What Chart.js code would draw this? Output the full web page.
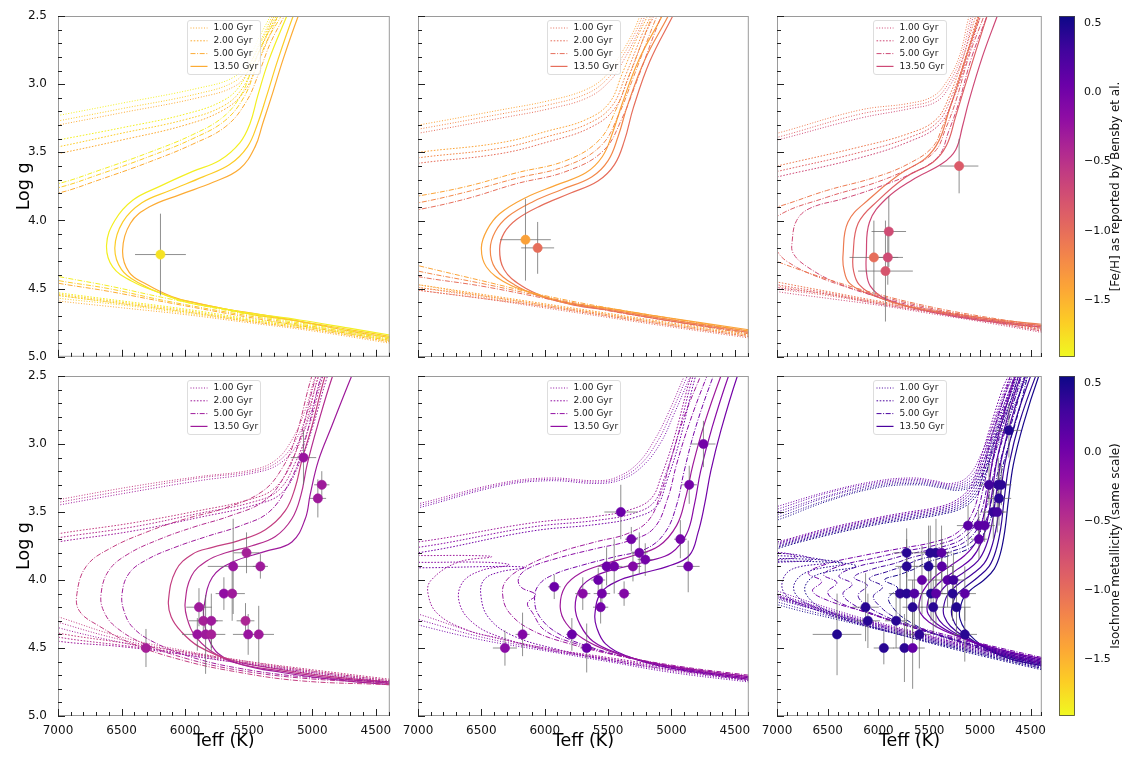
<!DOCTYPE html>
<html><head><meta charset="utf-8">
<script src="https://cdn.jsdelivr.net/npm/chart.js@4.4.1/dist/chart.umd.min.js"></script>
<style>
html,body{margin:0;padding:0;background:#fff;}
body{width:1123px;height:757px;position:relative;overflow:hidden;}
canvas{position:absolute;}
</style></head><body>
<script>
// ---------------- axes / labels ----------------
const X_TICKS = [7000,6500,6000,5500,5000,4500];
const Y_TICKS = [2.5,3.0,3.5,4.0,4.5,5.0];
const X_RANGE = [4390,7000];
const Y_RANGE = [2.5,5.0];
const CB_RANGE = [-1.91,0.55];
const CB_TICKS = [0.5,0.0,-0.5,-1.0,-1.5];
const CB_LABELS = ['[Fe/H] as reported by Bensby et al.','Isochrone metallicity (same scale)'];
const AGE_LABELS = ['1.00 Gyr','2.00 Gyr','5.00 Gyr','13.50 Gyr'];
const LEGEND_FEH = [-1.45,-1.0,-0.7,-0.3,-0.2,0.25];
const PLASMA = ['#0d0887','#41049d','#6a00a8','#8f0da4','#b12a90','#cc4778','#e16462','#f2844b','#fca636','#fcce25','#f0f921'];

// ---------------- panel 1 ----------------
const P1_FEH = [-1.85,-1.65,-1.45];
const P1_ISO_1G = [
[4390,4.88,5000,4.79,5500,4.73,6000,4.67,6500,4.61,7000,4.55,7400,4.50,null,null,7400,3.30,7000,3.23,6500,3.14,5900,3.03,5620,2.95,5510,2.83,5420,2.66,5330,2.50,5280,2.40],
[4390,4.89,5000,4.80,5500,4.74,6000,4.68,6500,4.62,7000,4.57,7400,4.52,null,null,7400,3.34,7000,3.27,6500,3.18,5900,3.07,5610,2.98,5500,2.86,5405,2.68,5315,2.50,5265,2.40],
[4390,4.90,5000,4.81,5500,4.75,6000,4.69,6500,4.64,7000,4.59,7400,4.54,null,null,7400,3.37,7000,3.30,6500,3.21,5900,3.10,5600,3.01,5490,2.88,5390,2.70,5300,2.50,5250,2.40]];
const P1_ISO_2G = [
[4390,4.87,5000,4.78,5500,4.72,6000,4.65,6500,4.59,7000,4.53,7400,4.48,null,null,7400,3.48,7000,3.41,6500,3.32,6000,3.22,5700,3.12,5560,3.00,5460,2.80,5300,2.50,5250,2.40],
[4390,4.88,5000,4.79,5500,4.73,6000,4.66,6500,4.60,7000,4.54,7400,4.49,null,null,7400,3.53,7000,3.46,6500,3.36,6000,3.26,5700,3.16,5550,3.03,5445,2.82,5285,2.50,5235,2.40],
[4390,4.89,5000,4.80,5500,4.74,6000,4.67,6500,4.61,7000,4.55,7400,4.50,null,null,7400,3.58,7000,3.51,6500,3.41,6000,3.30,5700,3.19,5540,3.06,5430,2.85,5270,2.50,5220,2.40]];
const P1_ISO_5G = [
[4390,4.86,4840,4.79,5500,4.69,6150,4.57,6600,4.48,7000,4.41,7400,4.33,null,null,7400,3.80,7000,3.73,6670,3.63,6280,3.50,5940,3.37,5700,3.24,5560,3.08,5470,2.88,5380,2.68,5270,2.50,5220,2.40],
[4390,4.87,4840,4.80,5500,4.70,6150,4.59,6600,4.50,7000,4.44,7400,4.36,null,null,7400,3.83,7000,3.76,6670,3.66,6280,3.53,5940,3.40,5690,3.27,5540,3.10,5450,2.90,5355,2.68,5245,2.50,5195,2.40],
[4390,4.88,4840,4.81,5500,4.71,6150,4.60,6600,4.52,7000,4.46,7400,4.39,null,null,7400,3.87,7000,3.80,6670,3.70,6280,3.57,5940,3.44,5680,3.31,5520,3.13,5420,2.92,5330,2.70,5220,2.50,5170,2.40]];
const P1_ISO_13G = [
[4390,4.84,4710,4.79,5100,4.73,5490,4.68,5750,4.64,5990,4.60,6200,4.53,6410,4.45,6570,4.34,6618,4.18,6553,4.00,6410,3.85,6200,3.75,5940,3.64,5730,3.56,5570,3.43,5490,3.29,5430,3.09,5340,2.82,5200,2.50,5130,2.35],
[4390,4.85,4710,4.80,5100,4.74,5470,4.69,5730,4.64,5940,4.60,6150,4.55,6360,4.46,6500,4.36,6553,4.20,6490,4.01,6340,3.87,6120,3.78,5860,3.68,5650,3.59,5510,3.46,5430,3.29,5360,3.09,5270,2.82,5150,2.50,5080,2.35],
[4390,4.86,4710,4.81,5100,4.74,5410,4.69,5680,4.65,5890,4.61,6100,4.56,6300,4.47,6440,4.38,6492,4.22,6430,4.02,6280,3.90,6040,3.81,5780,3.72,5570,3.62,5450,3.46,5390,3.29,5320,3.09,5230,2.82,5110,2.50,5040,2.35]];
const P1_TEFF = [6194];
const P1_LOGG = [4.25];
const P1_ETEFF = [200];
const P1_ELOGG = [0.30];
const P1_SFEH = [-1.78];

// ---------------- panel 2 ----------------
const P2_FEH = [-1.4,-1.2,-1.0];
const P2_ISO_1G = [
[4390,4.84,5000,4.76,5500,4.69,6000,4.62,6500,4.55,7000,4.47,7400,4.42,null,null,7400,3.36,7000,3.30,6356,3.19,5964,3.12,5676,3.04,5519,2.94,5414,2.80,5309,2.63,5250,2.50,5210,2.40],
[4390,4.85,5000,4.77,5500,4.70,6000,4.63,6500,4.56,7000,4.49,7400,4.44,null,null,7400,3.39,7000,3.33,6356,3.22,5964,3.15,5670,3.07,5505,2.96,5395,2.81,5290,2.63,5230,2.50,5190,2.40],
[4390,4.86,5000,4.78,5500,4.71,6000,4.64,6500,4.57,7000,4.51,7400,4.46,null,null,7400,3.42,7000,3.36,6356,3.25,5964,3.18,5665,3.10,5490,2.98,5375,2.82,5270,2.63,5210,2.50,5170,2.40]];
const P2_ISO_2G = [
[4390,4.83,5000,4.75,5500,4.68,6000,4.61,6500,4.54,7000,4.47,7400,4.42,null,null,7400,3.56,7000,3.50,6356,3.43,5964,3.34,5676,3.26,5493,3.14,5388,2.92,5257,2.63,5190,2.50,5150,2.40],
[4390,4.84,5000,4.76,5500,4.69,6000,4.62,6500,4.55,7000,4.49,7400,4.44,null,null,7400,3.60,7000,3.54,6356,3.47,5964,3.38,5660,3.29,5470,3.16,5360,2.93,5230,2.63,5165,2.50,5125,2.40],
[4390,4.85,5000,4.77,5500,4.70,6000,4.63,6500,4.57,7000,4.51,7400,4.46,null,null,7400,3.64,7000,3.58,6356,3.51,5964,3.42,5645,3.32,5450,3.18,5335,2.94,5205,2.63,5140,2.50,5100,2.40]];
const P2_ISO_5G = [
[4390,4.81,5050,4.71,5500,4.64,6000,4.55,6500,4.44,7000,4.33,7400,4.24,null,null,7400,3.88,7000,3.82,6618,3.75,6225,3.65,5833,3.56,5571,3.41,5440,3.19,5336,2.94,5152,2.50,5080,2.35],
[4390,4.82,5050,4.72,5500,4.65,6000,4.56,6500,4.46,7000,4.37,7400,4.28,null,null,7400,3.93,7000,3.87,6618,3.79,6225,3.69,5833,3.60,5555,3.45,5415,3.22,5305,2.96,5115,2.50,5040,2.35],
[4390,4.83,5050,4.73,5500,4.66,6000,4.57,6500,4.48,7000,4.41,7400,4.33,null,null,7400,3.98,7000,3.92,6618,3.84,6225,3.73,5833,3.64,5540,3.49,5390,3.25,5275,2.98,5080,2.50,5000,2.35]];
const P2_ISO_13G = [
[4390,4.80,5050,4.71,5520,4.64,5830,4.60,6100,4.53,6300,4.46,6460,4.34,6500,4.20,6456,4.07,6356,3.95,6147,3.83,5911,3.74,5676,3.65,5545,3.53,5466,3.36,5388,3.14,5257,2.82,5074,2.50,5000,2.35],
[4390,4.81,5050,4.72,5500,4.65,5800,4.61,6050,4.55,6240,4.47,6390,4.35,6430,4.21,6390,4.08,6290,3.97,6090,3.86,5860,3.77,5630,3.68,5500,3.56,5420,3.38,5345,3.15,5210,2.82,5026,2.50,4950,2.35],
[4390,4.82,5050,4.73,5480,4.66,5770,4.62,6000,4.56,6180,4.48,6320,4.36,6356,4.21,6320,4.09,6220,3.99,6030,3.89,5800,3.80,5580,3.71,5450,3.59,5370,3.41,5300,3.17,5170,2.83,4990,2.50,4910,2.35]];
const P2_TEFF = [6152,6056];
const P2_LOGG = [4.14,4.20];
const P2_ETEFF = [200,130];
const P2_ELOGG = [0.30,0.19];
const P2_SFEH = [-1.38,-1.0];

// ---------------- panel 3 ----------------
const P3_FEH = [-1.1,-0.9,-0.7];
const P3_ISO_1G = [
[4390,4.80,5000,4.72,5500,4.66,6000,4.60,6500,4.54,7000,4.48,7400,4.42,null,null,7400,3.43,7000,3.36,6186,3.19,5695,3.14,5466,3.09,5336,2.99,5205,2.80,5107,2.50,5060,2.40],
[4390,4.81,5000,4.73,5500,4.67,6000,4.61,6500,4.55,7000,4.50,7400,4.44,null,null,7400,3.46,7000,3.39,6186,3.22,5695,3.16,5450,3.11,5315,3.00,5185,2.80,5085,2.50,5040,2.40],
[4390,4.82,5000,4.74,5500,4.68,6000,4.62,6500,4.57,7000,4.52,7400,4.46,null,null,7400,3.48,7000,3.41,6186,3.25,5695,3.18,5435,3.13,5295,3.01,5165,2.80,5065,2.50,5020,2.40]];
const P3_ISO_2G = [
[4390,4.79,5000,4.71,5500,4.65,6000,4.59,6500,4.52,7000,4.45,7400,4.39,null,null,7400,3.67,7000,3.60,6186,3.46,5695,3.36,5434,3.26,5303,3.09,5172,2.82,5041,2.50,4990,2.40],
[4390,4.80,5000,4.72,5500,4.66,6000,4.60,6500,4.53,7000,4.47,7400,4.41,null,null,7400,3.71,7000,3.64,6186,3.50,5695,3.39,5420,3.28,5285,3.10,5150,2.82,5020,2.50,4970,2.40],
[4390,4.81,5000,4.73,5500,4.67,6000,4.61,6500,4.54,7000,4.49,7400,4.43,null,null,7400,3.75,7000,3.68,6186,3.54,5695,3.42,5405,3.30,5265,3.11,5130,2.82,4995,2.50,4945,2.40]];
const P3_ISO_5G = [
[4390,4.77,5000,4.70,5500,4.63,6000,4.54,6500,4.43,7000,4.30,7400,4.18,null,null,7400,3.97,7000,3.90,6513,3.78,6022,3.68,5695,3.58,5466,3.46,5368,3.31,5270,3.12,5139,2.80,4992,2.50,4940,2.40],
[4390,4.78,5000,4.71,5500,4.64,6000,4.55,6500,4.44,6900,4.30,7030,4.18,7050,4.08,7000,3.97,6513,3.83,6022,3.72,5680,3.61,5440,3.49,5340,3.33,5240,3.13,5110,2.80,4960,2.50,4910,2.40],
[4390,4.79,5000,4.72,5500,4.65,6000,4.56,6400,4.46,6700,4.34,6840,4.24,6850,4.15,6807,4.00,6676,3.91,6349,3.84,6022,3.76,5660,3.65,5410,3.53,5310,3.35,5210,3.14,5080,2.80,4930,2.50,4880,2.40]];
const P3_ISO_13G = [
[4390,4.76,4800,4.73,5205,4.69,5695,4.63,6088,4.54,6284,4.46,6340,4.36,6349,4.25,6300,4.01,6088,3.84,5793,3.66,5532,3.54,5401,3.41,5303,3.19,5205,2.97,5009,2.50,4940,2.35],
[4390,4.77,4800,4.74,5200,4.70,5650,4.64,6010,4.56,6190,4.47,6245,4.37,6251,4.26,6200,4.02,6000,3.85,5730,3.68,5460,3.57,5330,3.45,5240,3.24,5150,3.02,4930,2.50,4860,2.35],
[4390,4.78,4800,4.75,5190,4.71,5600,4.65,5940,4.57,6080,4.48,6118,4.38,6120,4.26,6088,4.01,5924,3.84,5663,3.70,5368,3.58,5238,3.48,5172,3.31,5107,3.12,4976,2.80,4829,2.50,4770,2.38]];
const P3_TEFF = [5205,5898,6045,5908,5931];
const P3_LOGG = [3.60,4.08,4.27,4.27,4.37];
const P3_ETEFF = [190,170,240,150,270];
const P3_ELOGG = [0.20,0.26,0.27,0.20,0.37];
const P3_SFEH = [-0.85,-0.72,-1.0,-0.72,-0.8];

// ---------------- panel 4 ----------------
const P4_FEH = [-0.6,-0.45,-0.3];
const P4_ISO_1G = [
[4390,4.74,5000,4.67,5500,4.60,6000,4.52,6500,4.42,7000,4.27,7400,4.15,null,null,7400,3.48,7000,3.41,6400,3.31,5891,3.24,5473,3.19,5290,3.12,5160,2.97,5055,2.75,4977,2.50,4930,2.40],
[4390,4.75,5000,4.68,5500,4.61,6000,4.53,6500,4.44,7000,4.31,7400,4.19,null,null,7400,3.50,7000,3.43,6400,3.33,5891,3.25,5460,3.20,5270,3.13,5135,2.98,5030,2.75,4950,2.50,4900,2.40],
[4390,4.76,5000,4.69,5500,4.62,6000,4.55,6500,4.46,7000,4.35,7400,4.23,null,null,7400,3.52,7000,3.45,6400,3.35,5891,3.27,5445,3.21,5250,3.14,5110,2.99,5005,2.75,4925,2.50,4875,2.40]];
const P4_ISO_2G = [
[4390,4.73,5000,4.66,5500,4.60,6000,4.53,6500,4.46,7000,4.39,7400,4.30,null,null,7400,3.73,7000,3.66,6413,3.58,5891,3.49,5500,3.41,5290,3.32,5160,3.12,5055,2.87,4951,2.50,4900,2.40],
[4390,4.74,5000,4.67,5500,4.61,6000,4.54,6500,4.48,7000,4.42,7400,4.34,null,null,7400,3.76,7000,3.69,6413,3.61,5891,3.51,5480,3.43,5265,3.34,5130,3.13,5025,2.87,4915,2.50,4865,2.40],
[4390,4.75,5000,4.68,5500,4.62,6000,4.55,6500,4.49,7000,4.45,7400,4.38,null,null,7400,3.79,7000,3.72,6413,3.64,5891,3.54,5460,3.45,5240,3.36,5100,3.14,4995,2.87,4880,2.50,4830,2.40]];
const P4_ISO_5G = [
[4390,4.77,5108,4.74,5630,4.67,6021,4.59,6413,4.47,6674,4.34,6830,4.23,6851,4.10,6778,3.90,6595,3.77,6282,3.64,5995,3.55,5682,3.47,5395,3.35,5238,3.18,5134,2.96,5003,2.50,4950,2.40],
[4390,4.76,5100,4.72,5600,4.66,5980,4.58,6320,4.47,6540,4.35,6640,4.23,6661,4.10,6600,3.93,6450,3.81,6200,3.70,5930,3.61,5650,3.53,5380,3.42,5220,3.24,5110,3.00,4970,2.50,4920,2.40],
[4390,4.75,5090,4.71,5570,4.65,5940,4.57,6240,4.46,6410,4.35,6480,4.23,6496,4.10,6440,3.95,6300,3.85,6080,3.76,5830,3.68,5560,3.60,5340,3.50,5190,3.30,5080,3.05,4930,2.50,4880,2.40]];
const P4_ISO_13G = [
[4390,4.75,4847,4.71,5238,4.66,5630,4.59,5891,4.49,6030,4.38,6110,4.27,6131,4.15,6073,3.93,5943,3.81,5786,3.76,5578,3.71,5369,3.63,5212,3.49,5134,3.32,5082,3.12,5003,2.87,4899,2.50,4850,2.40],
[4390,4.76,4847,4.72,5238,4.67,5600,4.61,5800,4.52,5930,4.40,5985,4.28,6000,4.17,5950,3.97,5830,3.86,5680,3.80,5480,3.75,5290,3.68,5160,3.55,5090,3.38,5040,3.15,4960,2.87,4840,2.50,4790,2.40],
[4390,4.77,4847,4.73,5238,4.68,5560,4.62,5740,4.54,5820,4.42,5850,4.30,5852,4.20,5786,3.98,5630,3.87,5369,3.79,5160,3.72,5055,3.55,5016,3.37,4951,3.12,4847,2.87,4690,2.50,4640,2.40]];
const P4_TEFF = [5069,4925,4956,5517,5622,5408,5695,5630,5891,5857,5794,5904,5839,5794,5525,5504,5421,6308];
const P4_LOGG = [3.10,3.30,3.40,3.80,3.90,3.90,4.10,4.10,4.20,4.30,4.30,4.40,4.40,4.40,4.30,4.40,4.40,4.50];
const P4_ETEFF = [100,60,65,100,200,60,65,100,100,115,90,120,60,110,70,120,120,40];
const P4_ELOGG = [0.20,0.10,0.14,0.15,0.35,0.09,0.12,0.20,0.14,0.12,0.20,0.12,0.29,0.12,0.13,0.15,0.21,0.14];
const P4_SFEH = [-0.25,-0.3,-0.3,-0.35,-0.25,-0.3,-0.2,-0.3,-0.3,-0.35,-0.3,-0.25,-0.3,-0.35,-0.4,-0.25,-0.3,-0.35];

// ---------------- panel 5 ----------------
const P5_FEH = [-0.3,-0.15,0.0];
const P5_ISO_1G = [
[4390,4.73,5000,4.66,5500,4.58,6000,4.50,6500,4.40,7000,4.25,7400,4.15,null,null,7400,3.52,7000,3.44,6361,3.29,5969,3.25,5577,3.27,5421,3.24,5264,3.14,5134,2.97,5029,2.78,4899,2.50,4850,2.40],
[4390,4.74,5000,4.67,5500,4.59,6000,4.51,6500,4.42,7000,4.29,7400,4.19,null,null,7400,3.53,7000,3.455,6361,3.30,5969,3.26,5577,3.28,5405,3.25,5245,3.15,5110,2.98,5005,2.78,4875,2.50,4825,2.40],
[4390,4.75,5000,4.68,5500,4.60,6000,4.52,6500,4.44,7000,4.33,7400,4.23,null,null,7400,3.55,7000,3.47,6361,3.31,5969,3.27,5577,3.29,5390,3.26,5225,3.16,5085,2.99,4980,2.78,4850,2.50,4800,2.40]];
const P5_ISO_2G = [
[4390,4.72,5000,4.64,5500,4.57,6000,4.50,6400,4.42,6607,4.37,6843,4.25,6921,4.10,6895,4.00,6686,3.87,6420,3.83,6600,3.82,7000,3.82,7400,3.81,null,null,7400,3.74,7000,3.72,6100,3.58,5577,3.53,5316,3.48,5160,3.40,5082,3.24,4977,2.95,4847,2.50,4800,2.40],
[4390,4.73,5000,4.65,5500,4.58,6000,4.51,6350,4.42,6560,4.32,6673,4.17,6650,4.02,6500,3.93,6280,3.89,6450,3.87,7000,3.87,7400,3.86,null,null,7400,3.78,7000,3.76,6100,3.61,5577,3.56,5300,3.51,5140,3.43,5060,3.26,4960,2.97,4830,2.50,4785,2.40],
[4390,4.74,5000,4.66,5500,4.59,5900,4.51,6250,4.41,6440,4.28,6503,4.12,6480,4.00,6350,3.94,6150,3.91,6300,3.90,7000,3.91,7400,3.90,null,null,7400,3.82,7000,3.80,6100,3.64,5577,3.59,5290,3.54,5120,3.46,5040,3.28,4940,2.99,4810,2.50,4765,2.40]];
const P5_ISO_5G = [
[4390,4.70,4900,4.64,5400,4.56,5800,4.47,6100,4.37,6280,4.24,6333,4.10,6300,4.00,6150,3.90,5900,3.80,5600,3.72,5350,3.66,5180,3.56,5080,3.35,5000,3.10,4900,2.80,4770,2.50,4720,2.40],
[4390,4.71,4900,4.65,5350,4.57,5750,4.47,6000,4.37,6097,4.24,6136,4.17,6071,4.11,6190,4.05,6204,3.98,6120,3.91,5900,3.84,5600,3.77,5330,3.71,5140,3.62,5030,3.40,4960,3.15,4860,2.85,4720,2.50,4670,2.40],
[4390,4.72,4900,4.66,5300,4.58,5650,4.49,5900,4.39,6040,4.27,6080,4.15,6050,4.04,5930,3.96,5700,3.89,5450,3.83,5200,3.77,5050,3.65,4960,3.45,4900,3.20,4810,2.88,4670,2.50,4620,2.40]];
const P5_ISO_13G = [
[4390,4.71,4800,4.66,5200,4.60,5500,4.52,5700,4.43,5830,4.32,5878,4.20,5840,4.05,5720,3.95,5520,3.88,5300,3.82,5100,3.75,4960,3.60,4890,3.40,4830,3.15,4740,2.85,4610,2.50,4560,2.40],
[4390,4.72,4800,4.67,5150,4.61,5420,4.54,5620,4.45,5720,4.33,5760,4.20,5720,4.06,5600,3.97,5400,3.91,5180,3.86,5000,3.80,4880,3.66,4820,3.45,4770,3.20,4680,2.88,4550,2.50,4500,2.40],
[4390,4.73,4800,4.68,5100,4.63,5350,4.56,5520,4.47,5590,4.35,5604,4.25,5560,4.10,5430,4.01,5230,3.95,5030,3.90,4860,3.82,4790,3.65,4740,3.45,4690,3.20,4610,2.90,4480,2.50,4430,2.40]];
const P5_TEFF = [4748,4860,5400,5317,4930,5254,5207,5512,5452,5304,4868,5578,5925,5700,5549,5374,5559,5786,6175,5669,6314];
const P5_LOGG = [3.00,3.30,3.50,3.70,3.70,3.80,3.85,3.90,3.90,3.90,3.90,4.00,4.05,4.10,4.10,4.10,4.20,4.40,4.40,4.50,4.50];
const P5_ETEFF = [95,60,130,50,50,65,60,70,65,65,90,55,50,60,65,50,60,45,55,50,95];
const P5_ELOGG = [0.17,0.14,0.20,0.09,0.14,0.15,0.12,0.14,0.20,0.11,0.19,0.09,0.09,0.12,0.09,0.09,0.12,0.12,0.16,0.18,0.13];
const P5_SFEH = [0.0,0.0,0.05,0.0,0.0,0.0,0.0,0.05,0.0,-0.1,0.0,0.05,0.05,-0.15,0.0,-0.1,0.0,0.05,-0.1,0.05,-0.15];

// ---------------- panel 6 ----------------
const P6_FEH = [0.0,0.1,0.2,0.3,0.4,0.5];
const P6_ISO_1G = [
[4390,4.60,4800,4.53,5300,4.44,5800,4.35,6300,4.25,7000,4.08,7400,3.97,null,null,7400,3.55,7000,3.46,6500,3.35,6000,3.27,5650,3.25,5450,3.27,5280,3.29,5120,3.24,4990,3.08,4850,2.82,4680,2.50,4620,2.40],
[4390,4.61,4800,4.54,5300,4.45,5800,4.36,6300,4.26,7000,4.10,7400,3.99,null,null,7400,3.57,7000,3.48,6500,3.36,6000,3.28,5640,3.26,5440,3.28,5265,3.30,5100,3.25,4970,3.09,4830,2.83,4650,2.50,4590,2.40],
[4390,4.62,4800,4.55,5300,4.46,5800,4.37,6300,4.27,7000,4.12,7400,4.01,null,null,7400,3.59,7000,3.50,6500,3.38,6000,3.29,5630,3.27,5430,3.29,5250,3.31,5080,3.26,4950,3.10,4810,2.84,4620,2.50,4560,2.40],
[4390,4.63,4800,4.56,5300,4.47,5800,4.38,6300,4.28,7000,4.14,7400,4.03,null,null,7400,3.61,7000,3.52,6500,3.39,6000,3.30,5620,3.28,5420,3.30,5235,3.32,5060,3.27,4930,3.11,4790,2.85,4590,2.50,4530,2.40],
[4390,4.64,4800,4.57,5300,4.48,5800,4.39,6300,4.30,7000,4.16,7400,4.05,null,null,7400,3.63,7000,3.54,6500,3.41,6000,3.31,5610,3.29,5410,3.31,5220,3.33,5040,3.28,4910,3.12,4770,2.86,4560,2.50,4500,2.40],
[4390,4.65,4800,4.58,5300,4.49,5800,4.40,6300,4.31,7000,4.18,7400,4.07,null,null,7400,3.65,7000,3.56,6500,3.42,6000,3.32,5600,3.30,5400,3.32,5205,3.34,5020,3.29,4890,3.13,4750,2.87,4530,2.50,4470,2.40]];
const P6_ISO_2G = [
[4390,4.61,4800,4.54,5300,4.45,5800,4.36,6300,4.27,6700,4.18,7000,4.11,7400,3.99,null,null,7400,3.78,7000,3.72,6500,3.62,6000,3.54,5700,3.50,5450,3.47,5250,3.42,5100,3.32,5000,3.12,4900,2.88,4780,2.60,4720,2.50],
[4390,4.62,4800,4.55,5300,4.46,5800,4.37,6300,4.28,6700,4.19,7000,4.12,7400,4.01,null,null,7400,3.86,7000,3.85,6800,3.83,6950,3.80,7400,3.79,null,null,7400,3.80,7000,3.73,6500,3.63,6000,3.55,5690,3.51,5440,3.48,5235,3.43,5085,3.33,4985,3.13,4885,2.89,4760,2.61,4700,2.50],
[4390,4.63,4800,4.56,5300,4.47,5800,4.38,6300,4.29,6700,4.20,7000,4.13,7400,4.03,null,null,7400,3.88,7000,3.87,6650,3.85,6850,3.81,7400,3.80,null,null,7400,3.82,7000,3.74,6500,3.64,6000,3.56,5680,3.52,5430,3.49,5220,3.44,5070,3.34,4970,3.14,4870,2.90,4740,2.62,4680,2.50],
[4390,4.64,4800,4.57,5300,4.48,5800,4.39,6300,4.30,6650,4.21,6900,4.12,6950,4.02,6850,3.92,6500,3.87,6750,3.83,7400,3.82,null,null,7400,3.84,7000,3.75,6500,3.65,6000,3.57,5670,3.53,5420,3.50,5205,3.45,5055,3.35,4955,3.15,4855,2.91,4720,2.63,4660,2.50],
[4390,4.65,4800,4.58,5300,4.49,5800,4.40,6250,4.31,6600,4.21,6800,4.12,6830,4.03,6700,3.94,6350,3.88,6600,3.85,7400,3.84,null,null,7400,3.86,7000,3.76,6500,3.66,6000,3.58,5660,3.54,5410,3.51,5190,3.46,5040,3.36,4940,3.16,4840,2.92,4700,2.64,4640,2.50],
[4390,4.66,4800,4.59,5300,4.50,5750,4.41,6200,4.31,6550,4.21,6700,4.12,6720,4.04,6600,3.96,6220,3.90,6450,3.87,7400,3.86,null,null,7400,3.88,7000,3.77,6500,3.67,6000,3.59,5650,3.55,5400,3.52,5175,3.47,5025,3.37,4925,3.17,4825,2.93,4680,2.65,4620,2.50]];
const P6_ISO_5G = [
[4390,4.57,4800,4.50,5300,4.41,5800,4.31,6200,4.22,6500,4.15,6650,4.08,6560,4.01,6690,3.95,6500,3.88,6150,3.82,5800,3.77,5450,3.72,5220,3.65,5070,3.50,4990,3.28,4910,3.02,4790,2.72,4700,2.50],
[4390,4.58,4800,4.51,5300,4.42,5750,4.33,6150,4.23,6400,4.16,6500,4.09,6410,4.02,6540,3.96,6350,3.89,6050,3.84,5750,3.79,5420,3.74,5190,3.67,5040,3.52,4960,3.30,4880,3.04,4760,2.74,4660,2.50],
[4390,4.59,4800,4.52,5250,4.44,5700,4.34,6050,4.25,6270,4.17,6350,4.10,6260,4.03,6390,3.97,6200,3.90,5950,3.86,5700,3.81,5390,3.76,5160,3.69,5010,3.54,4930,3.32,4850,3.06,4730,2.76,4620,2.50],
[4390,4.60,4800,4.53,5200,4.45,5650,4.35,5950,4.26,6130,4.18,6200,4.11,6110,4.04,6240,3.98,6060,3.92,5850,3.88,5650,3.83,5360,3.78,5130,3.71,4980,3.56,4900,3.34,4820,3.08,4700,2.78,4590,2.50],
[4390,4.61,4800,4.54,5150,4.46,5580,4.36,5850,4.27,5990,4.19,6050,4.12,5960,4.05,6090,3.99,5920,3.94,5760,3.90,5600,3.85,5330,3.80,5100,3.73,4950,3.58,4870,3.36,4790,3.10,4670,2.80,4560,2.50],
[4390,4.62,4800,4.55,5100,4.48,5500,4.38,5750,4.28,5860,4.20,5900,4.13,5810,4.06,5940,4.00,5790,3.96,5650,3.92,5520,3.87,5300,3.82,5070,3.75,4920,3.60,4840,3.38,4760,3.12,4640,2.82,4530,2.50]];
const P6_ISO_13G = [
[4390,4.58,4700,4.53,5000,4.47,5300,4.39,5500,4.31,5590,4.24,5600,4.18,5560,4.08,5450,3.98,5300,3.90,5150,3.82,5040,3.72,4970,3.55,4920,3.35,4870,3.10,4770,2.80,4650,2.50,4600,2.40],
[4390,4.59,4700,4.54,4980,4.48,5250,4.40,5430,4.32,5510,4.25,5520,4.19,5480,4.09,5370,4.00,5220,3.92,5080,3.84,4990,3.73,4925,3.56,4880,3.36,4830,3.11,4730,2.81,4600,2.50,4550,2.40],
[4390,4.60,4700,4.55,4960,4.49,5200,4.41,5360,4.33,5430,4.26,5440,4.20,5400,4.10,5290,4.01,5150,3.94,5020,3.86,4940,3.75,4880,3.58,4840,3.37,4790,3.12,4690,2.82,4550,2.50,4500,2.42],
[4390,4.61,4700,4.56,4940,4.50,5150,4.42,5290,4.34,5350,4.27,5360,4.21,5320,4.11,5210,4.03,5080,3.96,4960,3.88,4890,3.77,4835,3.60,4800,3.39,4750,3.13,4650,2.83,4500,2.50,4450,2.42],
[4390,4.62,4700,4.57,4920,4.51,5100,4.43,5220,4.35,5270,4.28,5280,4.22,5240,4.12,5140,4.05,5020,3.98,4910,3.90,4845,3.79,4795,3.62,4760,3.40,4710,3.14,4610,2.84,4450,2.50,4400,2.43],
[4390,4.63,4700,4.58,4900,4.52,5050,4.44,5150,4.36,5195,4.29,5200,4.23,5160,4.13,5070,4.06,4960,4.00,4860,3.92,4800,3.81,4755,3.64,4720,3.42,4670,3.15,4570,2.85,4420,2.50,4380,2.45]];
const P6_TEFF = [4714,4910,4819,4789,4812,4868,4829,5117,5015,4953,5009,5722,5489,5433,5378,5722,5506,5375,5571,5319,5261,5787,5722,5646,5482,5433,5270,5149,6127,5663,5460,5231,6104,5826,6408,5597,5149,5947,5744,5663];
const P6_LOGG = [2.90,3.30,3.30,3.30,3.40,3.50,3.50,3.60,3.60,3.60,3.70,3.80,3.80,3.80,3.80,3.90,3.90,3.90,4.00,4.00,4.00,4.10,4.10,4.10,4.10,4.10,4.10,4.10,4.20,4.20,4.20,4.20,4.30,4.30,4.40,4.40,4.40,4.50,4.50,4.50];
const P6_ETEFF = [120,100,110,100,120,110,100,110,90,100,80,130,100,120,100,110,130,110,140,120,110,110,130,100,140,110,120,110,130,100,120,140,120,110,240,110,120,100,110,120];
const P6_ELOGG = [0.20,0.15,0.20,0.15,0.20,0.20,0.15,0.15,0.12,0.12,0.15,0.18,0.20,0.25,0.20,0.20,0.30,0.20,0.25,0.20,0.20,0.20,0.30,0.25,0.20,0.25,0.20,0.20,0.25,0.20,0.20,0.20,0.20,0.20,0.30,0.25,0.20,0.12,0.25,0.30];
const P6_SFEH = [0.45,0.3,0.4,0.4,0.42,0.35,0.3,0.15,0.15,0.15,0.15,0.42,0.42,0.42,0.15,0.42,0.45,0.15,0.1,0.15,0.3,0.4,0.42,0.2,0.45,0.15,0.42,0.15,0.42,0.42,0.42,0.45,0.42,0.42,0.45,0.4,0.42,0.42,0.4,0.1];

// ---------------- styling helpers ----------------
const FONT = "'DejaVu Sans', 'Liberation Sans', sans-serif";
const AGE_DASH = [[1,1.7],[1.6,1.6],[5,1.6,1,1.6],[]];
const AGE_WIDTH = [1,1,1,1.2];
function hex2rgb(h){return [parseInt(h.slice(1,3),16),parseInt(h.slice(3,5),16),parseInt(h.slice(5,7),16)];}
const PL = PLASMA.map(hex2rgb);
function plasma(t){
  t = Math.max(0, Math.min(1, t));
  const s = t*(PL.length-1); const i = Math.min(PL.length-2, Math.floor(s)); const f = s-i;
  const c = PL[i].map((v,k)=>Math.round(v+(PL[i+1][k]-v)*f));
  return 'rgb('+c[0]+','+c[1]+','+c[2]+')';
}
function fehColor(v){ return plasma(1-(v-CB_RANGE[0])/(CB_RANGE[1]-CB_RANGE[0])); }
function curveData(flat){
  const out=[];
  for(let i=0;i<flat.length;i+=2){
    if(flat[i]===null) out.push({x:null,y:null}); else out.push({x:flat[i],y:flat[i+1]});
  }
  return out;
}
function fmtMinus(v){ return (v<0?'\u2212':'')+Math.abs(v).toFixed(1); }

const PANELS = [
  {col:0,row:0,feh:P1_FEH,iso:[P1_ISO_1G,P1_ISO_2G,P1_ISO_5G,P1_ISO_13G],st:[P1_TEFF,P1_LOGG,P1_ETEFF,P1_ELOGG,P1_SFEH],leg:LEGEND_FEH[0]},
  {col:1,row:0,feh:P2_FEH,iso:[P2_ISO_1G,P2_ISO_2G,P2_ISO_5G,P2_ISO_13G],st:[P2_TEFF,P2_LOGG,P2_ETEFF,P2_ELOGG,P2_SFEH],leg:LEGEND_FEH[1]},
  {col:2,row:0,feh:P3_FEH,iso:[P3_ISO_1G,P3_ISO_2G,P3_ISO_5G,P3_ISO_13G],st:[P3_TEFF,P3_LOGG,P3_ETEFF,P3_ELOGG,P3_SFEH],leg:LEGEND_FEH[2]},
  {col:0,row:1,feh:P4_FEH,iso:[P4_ISO_1G,P4_ISO_2G,P4_ISO_5G,P4_ISO_13G],st:[P4_TEFF,P4_LOGG,P4_ETEFF,P4_ELOGG,P4_SFEH],leg:LEGEND_FEH[3]},
  {col:1,row:1,feh:P5_FEH,iso:[P5_ISO_1G,P5_ISO_2G,P5_ISO_5G,P5_ISO_13G],st:[P5_TEFF,P5_LOGG,P5_ETEFF,P5_ELOGG,P5_SFEH],leg:LEGEND_FEH[4]},
  {col:2,row:1,feh:P6_FEH,iso:[P6_ISO_1G,P6_ISO_2G,P6_ISO_5G,P6_ISO_13G],st:[P6_TEFF,P6_LOGG,P6_ETEFF,P6_ELOGG,P6_SFEH],leg:LEGEND_FEH[5]}
];
const COLS = [[58,391],[418,750],[777,1043]];
const ROWS = [[16,357],[376,716]];

function makeCanvas(left, top, w, h){
  const c = document.createElement('canvas');
  c.width = w; c.height = h;
  c.style.left = left+'px'; c.style.top = top+'px';
  c.style.width = w+'px'; c.style.height = h+'px';
  document.body.appendChild(c);
  return c;
}

const framePlugin = {
  id:'frameTicks',
  afterDraw(chart){
    const {ctx, chartArea:a, scales:{x,y}} = chart;
    ctx.save();
    ctx.strokeStyle = '#9a9a9a'; ctx.lineWidth = 1;
    ctx.strokeRect(a.left+0.5, a.top+0.5, a.right-a.left-1, a.bottom-a.top-1);
    ctx.strokeStyle = '#222'; ctx.lineWidth = 1;
    ctx.beginPath();
    for(let v=25; v<=50; v++){
      const py = Math.round(y.getPixelForValue(v/10))+0.5;
      const L = (v%5===0)?7:4;
      ctx.moveTo(a.left, py); ctx.lineTo(a.left+L, py);
    }
    for(let v=44; v<=70; v++){
      const px = Math.round(x.getPixelForValue(v*100))+0.5;
      const L = (v%5===0)?7:4;
      ctx.moveTo(px, a.bottom); ctx.lineTo(px, a.bottom-L);
    }
    ctx.stroke();
    ctx.restore();
  }
};
function errPlugin(st){
  return {
    id:'errbars',
    beforeDatasetDraw(chart, args){
      if(args.index!==0) return;
      const {ctx, chartArea:a, scales:{x,y}} = chart;
      const [T,G,ET,EG] = st;
      ctx.save();
      ctx.beginPath(); ctx.rect(a.left,a.top,a.right-a.left,a.bottom-a.top); ctx.clip();
      ctx.strokeStyle = 'rgba(105,105,105,0.75)'; ctx.lineWidth = 1;
      ctx.beginPath();
      for(let i=0;i<T.length;i++){
        const px = x.getPixelForValue(T[i]), py = y.getPixelForValue(G[i]);
        ctx.moveTo(x.getPixelForValue(T[i]-ET[i]), py); ctx.lineTo(x.getPixelForValue(T[i]+ET[i]), py);
        ctx.moveTo(px, y.getPixelForValue(G[i]-EG[i])); ctx.lineTo(px, y.getPixelForValue(G[i]+EG[i]));
      }
      ctx.stroke();
      ctx.restore();
    }
  };
}
function legendPlugin(color){
  return {
    id:'isoLegend',
    afterDraw(chart){
      const {ctx, chartArea:a} = chart;
      const w = 73, h = 54;
      const l = Math.round((a.left+a.right)/2 - w/2)+0.5, t = a.top+4.5;
      ctx.save();
      ctx.beginPath();
      if(ctx.roundRect) ctx.roundRect(l,t,w,h,2.5); else ctx.rect(l,t,w,h);
      ctx.fillStyle = 'rgba(255,255,255,0.85)'; ctx.fill();
      ctx.strokeStyle = '#d4d4d4'; ctx.lineWidth = 0.8; ctx.stroke();
      ctx.font = '9px '+FONT; ctx.textBaseline = 'middle'; ctx.textAlign = 'left';
      for(let i=0;i<4;i++){
        const yy = t + 7.5 + i*12.8;
        ctx.setLineDash(AGE_DASH[i]); ctx.strokeStyle = color; ctx.lineWidth = AGE_WIDTH[i];
        ctx.beginPath(); ctx.moveTo(l+3, yy); ctx.lineTo(l+20, yy); ctx.stroke();
        ctx.setLineDash([]);
        ctx.fillStyle = '#222'; ctx.fillText(AGE_LABELS[i], l+26, yy);
      }
      ctx.restore();
    }
  };
}

PANELS.forEach(p => {
  const [L,R] = COLS[p.col]; const [T,B] = ROWS[p.row];
  const padL = p.col===0 ? 58 : 20, padR = 4, padT = 16, padB = p.row===0 ? 10 : 41;
  const cv = makeCanvas(L-padL, T-padT, (R-L)+padL+padR, (B-T)+padT+padB);
  const datasets = [];
  const [ST,SG,SET,SEG,SF] = p.st;
  datasets.push({
    data: ST.map((t,i)=>({x:t,y:SG[i]})),
    pointRadius: 4.6, pointBorderWidth: 0.6,
    pointBackgroundColor: SF.map(fehColor), pointBorderColor: SF.map(fehColor),
    showLine:false
  });
  p.iso.forEach((ageSet, ai) => {
    ageSet.forEach((flat, mi) => {
      datasets.push({
        data: curveData(flat), showLine:true, pointRadius:0, borderWidth: AGE_WIDTH[ai],
        borderColor: fehColor(p.feh[mi]), borderDash: AGE_DASH[ai],
        tension: 0.4, capBezierPoints:false, spanGaps:false, fill:false
      });
    });
  });
  const bottomRow = p.row===1, leftCol = p.col===0;
  new Chart(cv, {
    type:'scatter',
    data:{datasets},
    options:{
      responsive:false, animation:false, events:[], devicePixelRatio:1,
      layout:{padding:{left:0,right:padR,top:padT,bottom:0}},
      plugins:{legend:{display:false}, tooltip:{enabled:false}},
      scales:{
        x:{type:'linear', min:X_RANGE[0], max:X_RANGE[1], reverse:true,
           grid:{display:false}, border:{display:false},
           ticks:{display:bottomRow, padding:0, maxRotation:0, autoSkip:false, color:'#111', font:{family:FONT,size:12}, callback:v=>String(v)},
           afterBuildTicks: s => { s.ticks = X_TICKS.map(v=>({value:v})); },
           afterFit: s => { s.height = padB; },
           title:{display:bottomRow, text:'Teff (K)', color:'#000', font:{family:FONT,size:17.5}, padding:{top:0,bottom:5}}},
        y:{type:'linear', min:Y_RANGE[0], max:Y_RANGE[1], reverse:true,
           grid:{display:false}, border:{display:false},
           ticks:{display:leftCol, padding:3, color:'#111', font:{family:FONT,size:12}, callback:v=>Number(v).toFixed(1)},
           afterBuildTicks: s => { s.ticks = Y_TICKS.map(v=>({value:v})); },
           afterFit: s => { s.width = padL; },
           title:{display:leftCol, text:'Log g', color:'#000', font:{family:FONT,size:17.5}, padding:{top:14,bottom:0}}}
      }
    },
    plugins:[framePlugin, errPlugin(p.st), legendPlugin(fehColor(p.leg))]
  });
});

// ---------------- colorbars ----------------
[0,1].forEach(r => {
  const [T,B] = ROWS[r];
  const top = r===0 ? 0 : 360;
  const padT = T - top;
  const h = padT + (B-T) + 8;
  const cv = makeCanvas(1059, top, 64, h);
  new Chart(cv, {
    type:'bar',
    data:{labels:[''], datasets:[{
      data:[[CB_RANGE[0], CB_RANGE[1]]], borderWidth:0, barPercentage:1, categoryPercentage:1,
      backgroundColor: c => {
        const ch = c.chart; if(!ch.chartArea) return '#888';
        const y = ch.scales.y;
        const g = ch.ctx.createLinearGradient(0, y.getPixelForValue(CB_RANGE[0]), 0, y.getPixelForValue(CB_RANGE[1]));
        for(let i=0;i<=40;i++){ const v = CB_RANGE[0]+(CB_RANGE[1]-CB_RANGE[0])*i/40; g.addColorStop(i/40, fehColor(v)); }
        return g;
      }
    }]},
    options:{
      responsive:false, animation:false, events:[], devicePixelRatio:1,
      layout:{padding:{left:0,right:0,top:padT,bottom:8}},
      plugins:{legend:{display:false}, tooltip:{enabled:false}},
      scales:{
        x:{display:false},
        y:{position:'right', min:CB_RANGE[0], max:CB_RANGE[1], grid:{display:false}, border:{display:false},
           ticks:{padding:1, color:'#111', font:{family:FONT,size:11}, callback:v=>fmtMinus(v)},
           afterBuildTicks: s => { s.ticks = CB_TICKS.map(v=>({value:v})); },
           afterFit: s => { s.width = 48; }}
      }
    },
    plugins:[{
      id:'cbFrame',
      afterDraw(chart){
        const {ctx, chartArea:a} = chart;
        ctx.save();
        ctx.strokeStyle = '#444'; ctx.lineWidth = 0.8;
        ctx.strokeRect(a.left+0.5, a.top+0.5, a.right-a.left-1, a.bottom-a.top-1);
        ctx.translate(57, (a.top+a.bottom)/2);
        ctx.rotate(-Math.PI/2);
        ctx.font = '12px '+FONT; ctx.fillStyle = '#111'; ctx.textAlign = 'center'; ctx.textBaseline = 'middle';
        ctx.fillText(CB_LABELS[r], 0, 0);
        ctx.restore();
      }
    }]
  });
});
</script>
</body></html>
